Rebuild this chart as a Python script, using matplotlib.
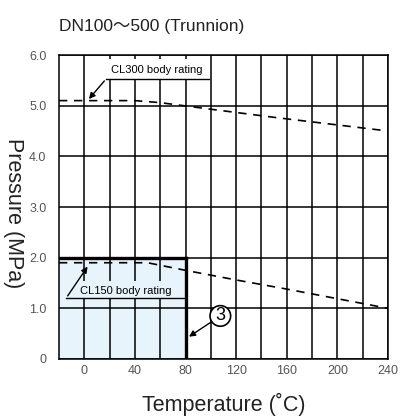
import matplotlib.pyplot as plt
import numpy as np

plt.rcParams['font.family'] = ['Liberation Sans', 'Noto Sans CJK SC', 'DejaVu Sans']

# 数据：温度 (°C) 与压力 (MPa)
cl300_t = [-20, 40, 60, 100, 150, 200, 240]
cl300_p = [5.1, 5.1, 5.06, 4.93, 4.77, 4.62, 4.5]
cl150_t = [-20, 50, 80, 120, 160, 200, 240]
cl150_p = [1.9, 1.9, 1.75, 1.56, 1.38, 1.19, 1.0]
area_t_max = 80      # 使用范围：温度上限
area_p_max = 2.0     # 使用范围：压力上限
x_ticks = [0, 40, 80, 120, 160, 200, 240]
y_ticks = [0, 1, 2, 3, 4, 5, 6]
y_tick_labels = ['0', '1.0', '2.0', '3.0', '4.0', '5.0', '6.0']

fig = plt.figure(figsize=(4, 4.19), dpi=100)
ax = fig.add_axes([0.1475, 0.1432, 0.8225, 0.7255])
ax.set_xlim(-20, 240)
ax.set_ylim(0, 6)

# 网格线
for gx in range(0, 241, 20):
    ax.axvline(gx, color='black', lw=1.1, zorder=1)
for gy in y_ticks:
    ax.axhline(gy, color='black', lw=1.1, zorder=1)

# 使用范围区域
ax.fill_between([-20, area_t_max], 0, area_p_max, color='#e8f4fb', zorder=0)
ax.plot([-20, area_t_max], [area_p_max, area_p_max], color='black', lw=2.4, zorder=3)
ax.plot([area_t_max, area_t_max], [0, area_p_max], color='black', lw=2.4, zorder=3)

# 额定曲线
ax.plot(cl300_t, cl300_p, color='black', lw=1.2, ls=(0, (5, 4)), zorder=4)
ax.plot(cl150_t, cl150_p, color='black', lw=1.2, ls=(0, (5, 4)), zorder=4)

# 标注
ax.add_patch(plt.Rectangle((17.3, 5.53), 81.6, 0.4, facecolor='white', edgecolor='none', zorder=5))
ax.plot([17.3, 98.9], [5.53, 5.53], color='black', lw=1.0, zorder=6)
ax.text(57, 5.71, 'CL300 body rating', ha='center', va='center', fontsize=8, zorder=7)
ax.annotate('', xy=(2.2, 5.09), xytext=(17.3, 5.53),
            arrowprops=dict(arrowstyle='-|>', color='black', lw=1.0, mutation_scale=9), zorder=7)

ax.add_patch(plt.Rectangle((-3, 1.2), 81.5, 0.33, facecolor='#e8f4fb', edgecolor='none', zorder=5))
ax.plot([-14.4, 79], [1.2, 1.2], color='black', lw=1.0, zorder=6)
ax.text(32.5, 1.35, 'CL150 body rating', ha='center', va='center', fontsize=8, zorder=7)
ax.annotate('', xy=(3.8, 1.87), xytext=(-14.4, 1.2),
            arrowprops=dict(arrowstyle='-|>', color='black', lw=1.0, mutation_scale=9), zorder=7)

ax.annotate('3', xy=(80.9, 0.41), xytext=(107.5, 0.85), ha='center', va='center',
            fontsize=13,
            bbox=dict(boxstyle='circle,pad=0.1', facecolor='white', edgecolor='black', lw=1.2),
            arrowprops=dict(arrowstyle='-|>', color='black', lw=1.0, mutation_scale=9,
                            shrinkA=0), zorder=7)

# 坐标轴
ax.set_xticks(x_ticks)
ax.set_yticks(y_ticks)
ax.set_yticklabels(y_tick_labels)
ax.tick_params(length=0, labelsize=9, labelcolor='#555555')
ax.tick_params(axis='y', pad=9)
ax.tick_params(axis='x', pad=4)
for s in ax.spines.values():
    s.set_color('black')
    s.set_linewidth(1.1)

ax.set_title('DN100～500 (Trunnion)', loc='left', fontsize=12.5, pad=17, color='#222222')
ax.set_xlabel('Temperature (˚C)', fontsize=15.5, color='#222222')
ax.set_ylabel('Pressure (MPa)', fontsize=15.5, rotation=270, color='#222222')
ax.xaxis.set_label_coords(0.5, -0.112)
ax.yaxis.set_label_coords(-0.17, 0.48)

fig.savefig('out.png', dpi=100)
